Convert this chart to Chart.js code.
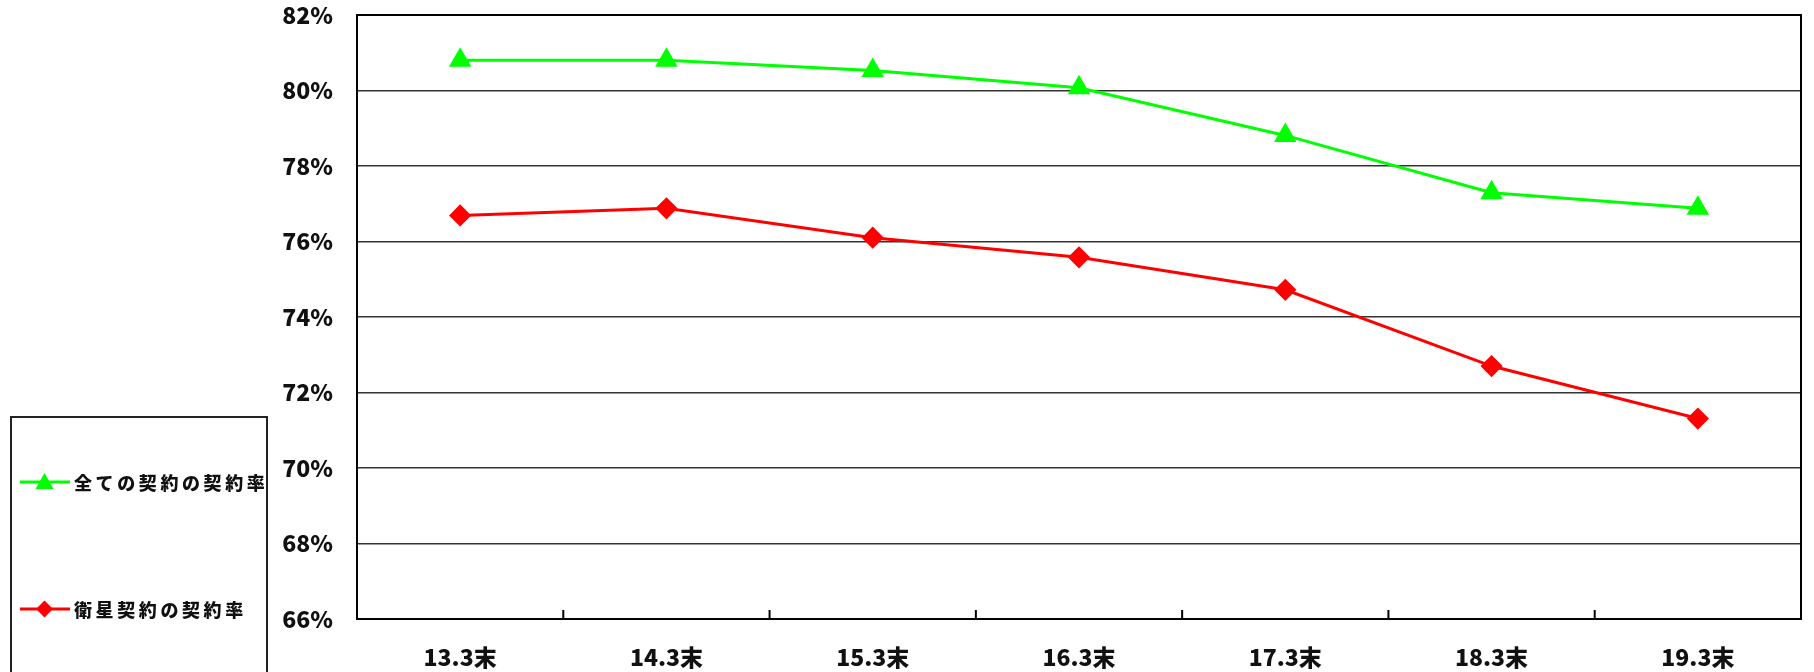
<!DOCTYPE html>
<html>
<head>
<meta charset="utf-8">
<title>契約率</title>
<script src="https://cdn.jsdelivr.net/npm/chart.js"></script>
<style>
  body { margin: 0; background: #fff; }
  #wrap { position: relative; width: 1814px; height: 672px; }
  #legend {
    position: absolute; left: 10px; top: 416px; width: 258px; height: 300px;
    border: 2px solid #222; box-sizing: border-box;
    font-family: "Noto Sans CJK JP", sans-serif; font-weight: 900; font-size: 18px;
    letter-spacing: 3.6px; color: #111; white-space: nowrap;
  }
  .item { position: absolute; left: 8px; display: flex; align-items: center; height: 24px; }
  .item svg { margin-right: 4px; }
</style>
</head>
<body>
<div id="wrap">
  <canvas id="rateChart" width="1814" height="672"></canvas>
  <div id="legend"></div>
</div>
<script>
const periods = ['13.3末', '14.3末', '15.3末', '16.3末', '17.3末', '18.3末', '19.3末'];
const allRate = [80.8, 80.8, 80.53, 80.07, 78.81, 77.29, 76.88];
const satelliteRate = [76.69, 76.88, 76.1, 75.58, 74.72, 72.7, 71.31];
const seriesNames = ['全ての契約の契約率', '衛星契約の契約率'];
const yTicks = [66, 68, 70, 72, 74, 76, 78, 80, 82];

const tickFont = { family: '"Noto Sans CJK JP", sans-serif', size: 23, weight: 900 };

// frame around plot + small inward ticks on the bottom axis
const framePlugin = {
  id: 'frame',
  afterDraw(chart) {
    const { ctx, chartArea: a } = chart;
    const x = chart.scales.x;
    ctx.save();
    ctx.strokeStyle = '#000';
    ctx.lineWidth = 2;
    ctx.strokeRect(a.left, a.top, a.right - a.left, a.bottom - a.top);
    ctx.beginPath();
    for (let i = 1; i <= periods.length; i++) {
      const px = i < periods.length
        ? (x.getPixelForTick(i - 1) + x.getPixelForTick(i)) / 2
        : a.right;
      ctx.moveTo(px, a.bottom);
      ctx.lineTo(px, a.bottom - 9);
    }
    ctx.stroke();
    ctx.restore();
  }
};

const ctx = document.getElementById('rateChart').getContext('2d');
new Chart(ctx, {
  type: 'line',
  data: {
    labels: periods,
    datasets: [{
      label: seriesNames[0],
      data: allRate,
      borderColor: '#00ff00',
      backgroundColor: '#00ff00',
      borderWidth: 3,
      pointStyle: 'triangle',
      pointRadius: 10,
      pointHoverRadius: 10,
      tension: 0
    }, {
      label: seriesNames[1],
      data: satelliteRate,
      borderColor: '#ff0000',
      backgroundColor: '#ff0000',
      borderWidth: 3,
      pointStyle: 'rectRot',
      pointRadius: 9,
      pointHoverRadius: 9,
      tension: 0
    }]
  },
  options: {
    responsive: false,
    animation: false,
    layout: { padding: { top: 15, right: 5, left: 0, bottom: 0 } },
    plugins: { legend: { display: false }, tooltip: { enabled: false } },
    scales: {
      x: {
        offset: true,
        grid: { display: false, drawTicks: false },
        border: { display: false },
        ticks: { color: '#111', font: tickFont, padding: 24, maxRotation: 0 },
        afterFit(s) { s.height = 53; s.paddingLeft = 0; s.paddingRight = 0; }
      },
      y: {
        min: 66, max: 82,
        afterBuildTicks(s) { s.ticks = yTicks.map(v => ({ value: v })); },
        grid: { color: '#333', lineWidth: 1.5, drawTicks: false },
        border: { display: false },
        ticks: { color: '#111', font: tickFont, padding: 24, callback: v => v + '%' },
        afterFit(s) { s.width = 357; s.paddingTop = 0; s.paddingBottom = 0; }
      }
    }
  },
  plugins: [framePlugin]
});

// legend box, built from the series names
const legend = document.getElementById('legend');
const legendRows = [
  { name: seriesNames[0], color: '#00ff00', shape: 'tri', top: 52 },
  { name: seriesNames[1], color: '#ff0000', shape: 'dia', top: 179 }
];
legendRows.forEach(r => {
  const marker = r.shape === 'tri'
    ? `<polygon points="24.5,3 33.5,19 15.5,19" fill="${r.color}"/>`
    : `<polygon points="24.5,3.5 33,12 24.5,20.5 16,12" fill="${r.color}"/>`;
  const div = document.createElement('div');
  div.className = 'item';
  div.style.top = r.top + 'px';
  div.innerHTML = `<svg width="50" height="24"><line x1="0" y1="12" x2="50" y2="12" stroke="${r.color}" stroke-width="3"/>${marker}</svg><span>${r.name}</span>`;
  legend.appendChild(div);
});
</script>
</body>
</html>
